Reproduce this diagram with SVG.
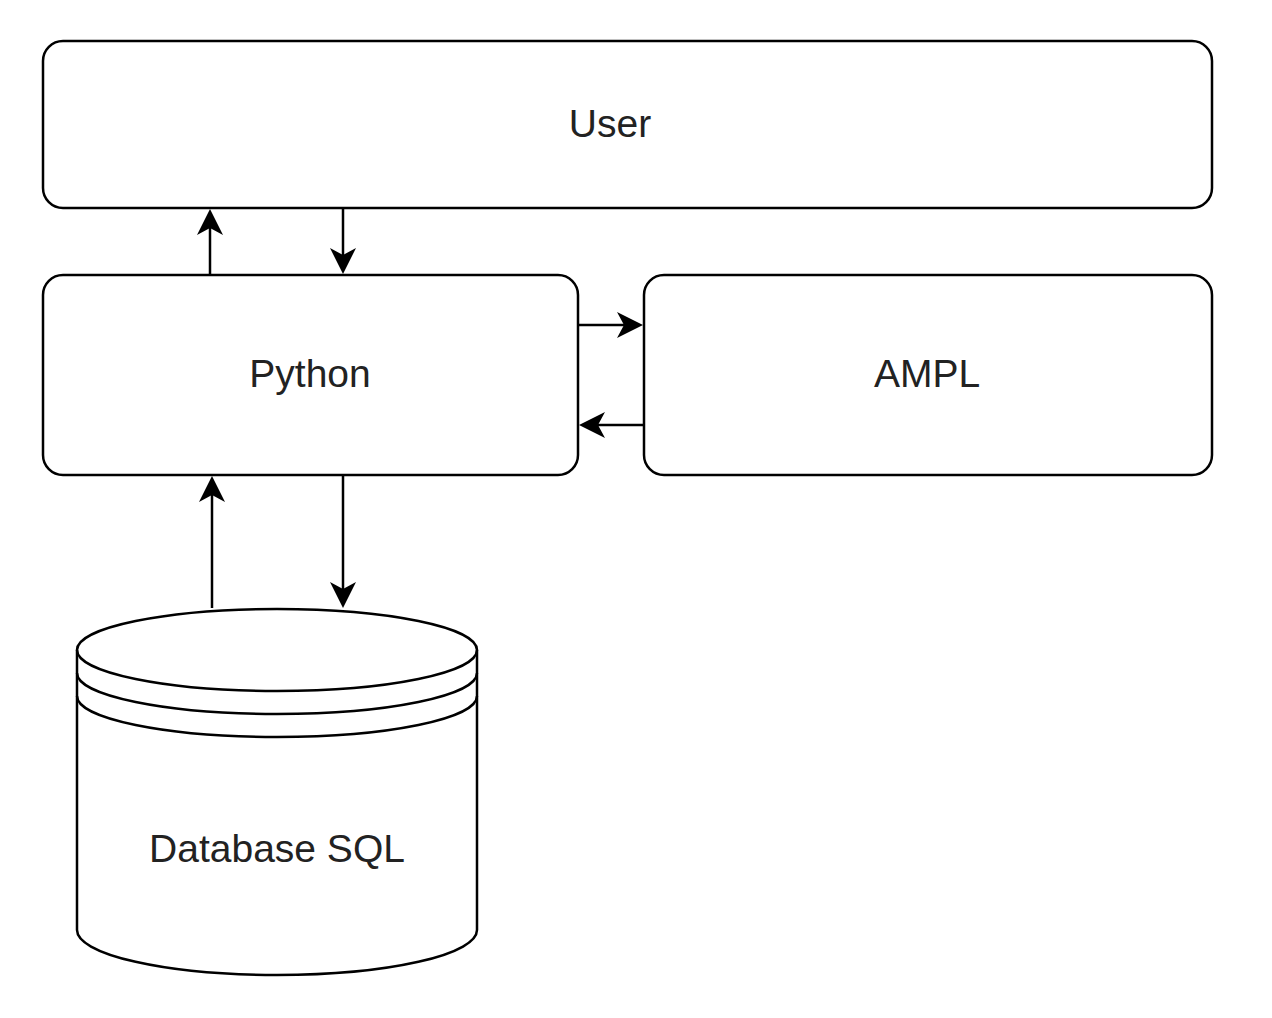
<svg xmlns="http://www.w3.org/2000/svg" width="1272" height="1018" viewBox="0 0 1272 1018">
<style>
.box{fill:#fff;stroke:#000;stroke-width:2.5}
.lbl{font-family:"Liberation Sans",Arial,sans-serif;font-size:39px;fill:#222;text-anchor:middle}
.edge{fill:none;stroke:#000;stroke-width:2.5}
</style>
<defs>
<marker id="arr" markerUnits="userSpaceOnUse" markerWidth="28" markerHeight="28" refX="7" refY="13" orient="auto">
<path d="M0,0 L26,13 L0,26 L7,13 Z" fill="#000"/>
</marker>
</defs>
<rect width="1272" height="1018" fill="#fff"/>
<g id="user">
<rect class="box" x="43" y="41" width="1169" height="167" rx="20" ry="20"/>
<text class="lbl" x="610" y="137">User</text>
</g>
<g id="python">
<rect class="box" x="43" y="275" width="535" height="200" rx="20" ry="20"/>
<text class="lbl" x="310" y="387">Python</text>
</g>
<g id="ampl">
<rect class="box" x="644" y="275" width="568" height="200" rx="20" ry="20"/>
<text class="lbl" x="927" y="387">AMPL</text>
</g>
<g id="database">
<path class="box" d="M77,650 A200,41 0 0 1 477,650 L477,930 A200,45 0 0 1 77,930 Z"/>
<path class="edge" d="M77,650 A200,41 0 0 0 477,650 M77,673 A200,41 0 0 0 477,673 M77,696 A200,41 0 0 0 477,696"/>
<text class="lbl" x="277" y="862">Database SQL</text>
</g>
<g id="connectors">
<path class="edge" d="M210,275 L210,228" marker-end="url(#arr)"/>
<path class="edge" d="M343,208 L343,255" marker-end="url(#arr)"/>
<path class="edge" d="M578,325 L624,325" marker-end="url(#arr)"/>
<path class="edge" d="M644,425 L598,425" marker-end="url(#arr)"/>
<path class="edge" d="M212,608 L212,495" marker-end="url(#arr)"/>
<path class="edge" d="M343,475 L343,589" marker-end="url(#arr)"/>
</g>
</svg>
